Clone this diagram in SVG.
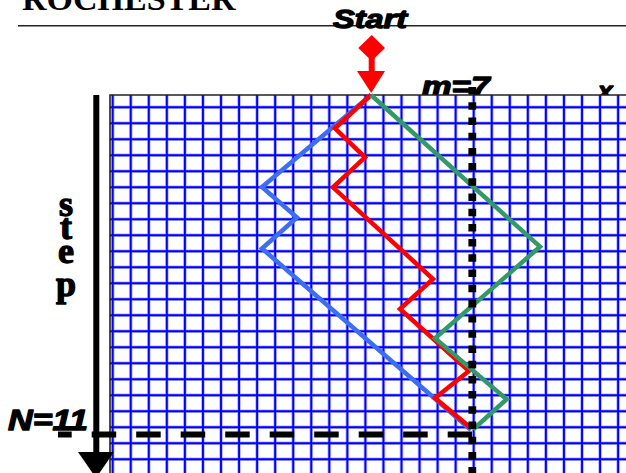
<svg xmlns="http://www.w3.org/2000/svg" width="626" height="473" viewBox="0 0 626 473">
  <style>
    .bi { font-family: "Liberation Sans", Arial, sans-serif; font-weight: bold; font-style: italic; fill: #000; }
    .serif { font-family: "Liberation Serif", "Times New Roman", serif; font-weight: bold; fill: #000; }
    .heavy { stroke: #000; stroke-width: 1.3; stroke-linejoin: round; }
    .halo { fill: none; stroke: #b4b4ff; stroke-width: 3.6; }
    .core { fill: none; stroke: #0000ff; stroke-width: 1.9; }
    .walk { fill: none; stroke-width: 4.5; stroke-linejoin: miter; stroke-miterlimit: 10; }
  </style>
  <rect x="0" y="0" width="626" height="473" fill="#fff"/>

  <g id="header">
    <text class="serif" x="22" y="10" font-size="34">ROCHESTER</text>
    <line x1="18" y1="25.7" x2="626" y2="25.7" stroke="#222" stroke-width="1.5"/>
  </g>

  <g id="axis-labels">
    <text class="bi heavy" x="333" y="28" font-size="26" stroke-width="0.6" textLength="74" lengthAdjust="spacingAndGlyphs">Start</text>
    <text class="bi heavy" x="421.7" y="96" font-size="27" stroke-width="0.6" textLength="68" lengthAdjust="spacingAndGlyphs">m=7</text>
    <text class="bi heavy" x="598" y="100" font-size="26" stroke-width="0.6">x</text>
  </g>

  <g id="grid">
    <rect x="110" y="95" width="516" height="378" fill="#fff"/>
    <path id="grid-lines-halo" class="halo" d="M112.7 95V473M130.75 95V473M148.8 95V473M166.85 95V473M184.9 95V473M202.95 95V473M221 95V473M239.05 95V473M257.1 95V473M275.15 95V473M293.2 95V473M311.25 95V473M329.3 95V473M347.35 95V473M365.4 95V473M383.45 95V473M401.5 95V473M419.55 95V473M437.6 95V473M455.65 95V473M473.7 95V473M491.75 95V473M509.8 95V473M527.85 95V473M545.9 95V473M563.95 95V473M582 95V473M600.05 95V473M618.1 95V473M110 107.3H626M110 123.3H626M110 139.3H626M110 155.3H626M110 171.3H626M110 187.3H626M110 203.3H626M110 219.3H626M110 235.3H626M110 251.3H626M110 267.3H626M110 283.3H626M110 299.3H626M110 315.3H626M110 331.3H626M110 347.3H626M110 363.3H626M110 379.3H626M110 395.3H626M110 411.3H626M110 427.3H626M110 443.3H626M110 459.3H626"/>
    <path id="grid-lines" class="core" d="M112.7 95V473M130.75 95V473M148.8 95V473M166.85 95V473M184.9 95V473M202.95 95V473M221 95V473M239.05 95V473M257.1 95V473M275.15 95V473M293.2 95V473M311.25 95V473M329.3 95V473M347.35 95V473M365.4 95V473M383.45 95V473M401.5 95V473M419.55 95V473M437.6 95V473M455.65 95V473M473.7 95V473M491.75 95V473M509.8 95V473M527.85 95V473M545.9 95V473M563.95 95V473M582 95V473M600.05 95V473M618.1 95V473M110 107.3H626M110 123.3H626M110 139.3H626M110 155.3H626M110 171.3H626M110 187.3H626M110 203.3H626M110 219.3H626M110 235.3H626M110 251.3H626M110 267.3H626M110 283.3H626M110 299.3H626M110 315.3H626M110 331.3H626M110 347.3H626M110 363.3H626M110 379.3H626M110 395.3H626M110 411.3H626M110 427.3H626M110 443.3H626M110 459.3H626"/>
    <path id="grid-border" d="M626 95H110V473" fill="none" stroke="#222" stroke-width="1.6"/>
  </g>

  <g id="step-axis">
    <rect x="93.3" y="95" width="6" height="360"/>
    <polygon points="78,452 114,452 96,478"/>
    <text class="serif heavy" x="66" y="216" font-size="36" text-anchor="middle">s</text>
    <text class="serif heavy" x="66" y="239" font-size="36" text-anchor="middle">t</text>
    <text class="serif heavy" x="66" y="263" font-size="36" text-anchor="middle">e</text>
    <text class="serif heavy" x="66" y="296" font-size="36" text-anchor="middle">p</text>
  </g>

  <g id="connectors">
    <polyline id="walk-blue" class="walk" stroke="#3d6cf5" points="371,95 262,187 297,217.5 262,248.5 471,430"/>
    <polyline id="walk-red" class="walk" stroke="#ff0000" points="371,95 335,128.3 365,157.3 333,187.3 433,279 400,309 469,371 435,398 471,428"/>
    <polyline id="walk-green" class="walk" stroke="#339966" points="371,95 540,246.7 435,338.3 506.7,399.3 473,429.5"/>
  </g>

  <g id="limits">
    <line id="m-line" x1="472.3" y1="87.1" x2="472.3" y2="480" stroke="#000" stroke-width="7.8" stroke-dasharray="7.5 7.7"/>
    <line id="n-line" x1="58" y1="434.5" x2="472" y2="434.5" stroke="#000" stroke-width="6" stroke-dasharray="24.5 20" stroke-dashoffset="10.8"/>
    <text class="bi heavy" x="8" y="430" font-size="30" stroke-width="0.6" textLength="80" lengthAdjust="spacingAndGlyphs">N=11</text>
  </g>

  <g id="start-marker" fill="#ff0000">
    <polygon points="371.7,35 385,48 371.7,61 358.3,48"/>
    <rect x="368.7" y="58" width="6" height="14"/>
    <polygon points="357,71 385,71 371.2,93"/>
  </g>
</svg>
